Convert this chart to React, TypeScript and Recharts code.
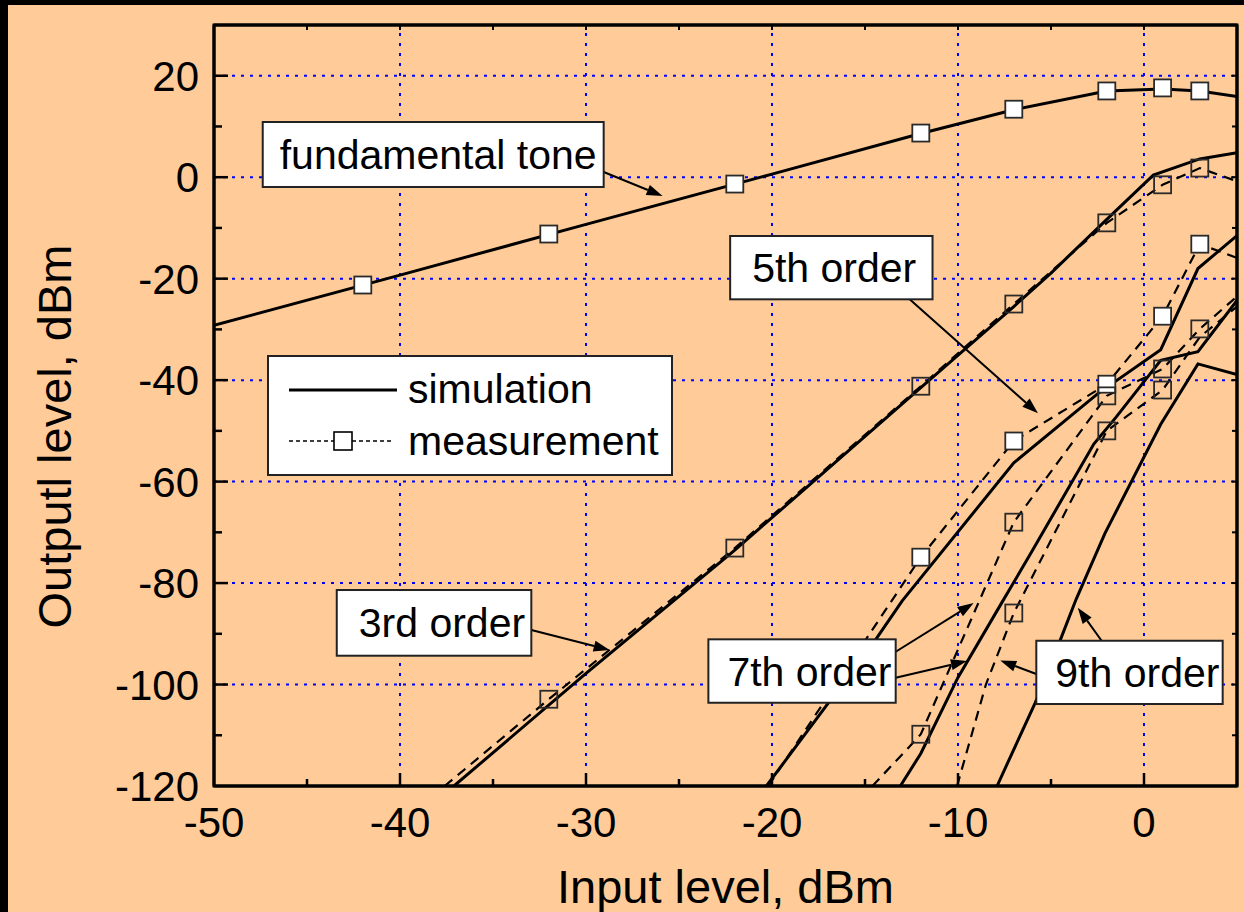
import React from 'react';
import {
  LineChart,
  Line,
  XAxis,
  YAxis,
  ReferenceArea,
  ReferenceLine,
  Legend,
} from 'recharts';

const FONT = '"Liberation Sans", Arial, Helvetica, sans-serif';
const PEACH = '#FFCC99';

// ---- axes ----
const xTicks = [-50, -45, -40, -35, -30, -25, -20, -15, -10, -5, 0, 5];
const xLabels = [-50, -40, -30, -20, -10, 0];
const yTicks = [-120, -110, -100, -90, -80, -70, -60, -50, -40, -30, -20, -10, 0, 10, 20, 30];
const yLabels = [-120, -100, -80, -60, -40, -20, 0, 20];
const gridX = [-40, -30, -20, -10, 0];
const gridY = [-100, -80, -60, -40, -20, 0, 20];

// ---- measured input levels (markers) ----
const measX = [-42, -32, -22, -12, -7, -2, 1, 3];

// fundamental tone
const fundSimX = [-50, -40, -30, -20, -12, -7, -2, 1, 3, 5];
const fundSimY = [-29.2, -19.3, -9.3, 0.6, 8.6, 13.3, 17.0, 17.4, 17.0, 15.9];
const fundMeasY = [-21.25, -11.2, -1.35, 8.7, 13.4, 17.0, 17.6, 17.0];

// 3rd order
const thirdSimX = [-37.1, -30, -22, -12, -7, -5, -2, 0.5, 3, 5];
const thirdSimY = [-120, -97.8, -73.5, -41.5, -25.5, -18.9, -8.3, 0.4, 3.6, 4.8];
const thirdMeasX = [-37.6, -32, -22, -12, -7, -2, 1, 3, 5];
const thirdMeasY = [-120, -102.9, -73.1, -41.2, -25.0, -9.0, -1.5, 1.8, -0.8];
const thirdMarks = [-32, -22, -12, -7, -2, 1, 3];

// 5th order
const fifthSimX = [-20.3, -14.4, -13, -7, -2.5, 0.9, 2.9, 5];
const fifthSimY = [-120, -91, -83.5, -56.3, -42.7, -34, -18, -11.5];
const fifthMeasX = [-20.2, -18.3, -12, -7, -2, 1, 3, 5];
const fifthMeasY = [-120, -109.5, -74.9, -52.0, -40.8, -27.4, -13.2, -15.9];
const fifthMarks = [-12, -7, -2, 1, 3];

// 7th order
const seventhSimX = [-13.1, -12, -10, -7.7, -6, -2.7, -1.5, 0.9, 2.9, 5];
const seventhSimY = [-120, -113.6, -98.6, -84.2, -73.6, -52.6, -47.3, -36.1, -34.4, -24.3];
const seventhMeasX = [-14.6, -12.7, -12, -7, -2, 1, 3, 5];
const seventhMeasY = [-120, -112.6, -109.8, -68.0, -43.1, -37.8, -29.9, -23.5];
const seventhMarks = [-12, -7, -2, 1, 3];

// 9th order
const ninthSimX = [-7.9, -5.85, -4.56, -3.65, -2.1, 0.9, 2.9, 5];
const ninthSimY = [-120, -103.6, -91.8, -83.2, -70.2, -48.7, -36.8, -38.9];
const ninthMeasX = [-10.05, -8.5, -7, -2, 1, 3, 5];
const ninthMeasY = [-120, -100, -85.9, -50.0, -41.95, -31.5, -25.5];
const ninthMarks = [-7, -2, 1];

// ---- annotations ----
const annotations = [
  { text: 'fundamental tone', x1: -47.38, x2: -29.05, y1: 10.88, y2: -1.93, dx: 17 },
  { text: '5th order', x1: -22.25, x2: -11.37, y1: -11.59, y2: -24.07, dx: 22 },
  { text: '3rd order', x1: -43.4, x2: -32.94, y1: -81.37, y2: -94.32, dx: 22 },
  { text: '7th order', x1: -23.42, x2: -13.35, y1: -91.09, y2: -103.59, dx: 19 },
  { text: '9th order', x1: -5.79, x2: 4.23, y1: -91.37, y2: -103.84, dx: 19 },
];
const arrows = [
  { fx: -29.05, fy: 1.02, tx: -25.88, ty: -3.71 },
  { fx: -12.6, fy: -24.07, tx: -5.7, ty: -46.54 },
  { fx: -32.94, fy: -89.26, tx: -28.73, ty: -93.2 },
  { fx: -13.35, fy: -93.54, tx: -9.16, ty: -83.95 },
  { fx: -13.35, fy: -98.66, tx: -9.52, ty: -95.37 },
  { fx: -5.79, fy: -97.93, tx: -7.73, ty: -95.24 },
  { fx: -2.28, fy: -91.37, tx: -3.56, ty: -84.86 },
];

type Pt = { x: number; y: number; mark: boolean };
const curve = (xs: number[], ys: number[], marks: number[] = []): Pt[] =>
  xs.map((x, i) => ({ x, y: ys[i], mark: marks.includes(x) }));

const fundSim = curve(fundSimX, fundSimY);
const fundMeas = curve(measX, fundMeasY, measX);
const thirdSim = curve(thirdSimX, thirdSimY);
const thirdMeas = curve(thirdMeasX, thirdMeasY, thirdMarks);
const fifthSim = curve(fifthSimX, fifthSimY);
const fifthMeas = curve(fifthMeasX, fifthMeasY, fifthMarks);
const seventhSim = curve(seventhSimX, seventhSimY);
const seventhMeas = curve(seventhMeasX, seventhMeasY, seventhMarks);
const ninthSim = curve(ninthSimX, ninthSimY);
const ninthMeas = curve(ninthMeasX, ninthMeasY, ninthMarks);

const sims = [fundSim, thirdSim, fifthSim, seventhSim, ninthSim];
const meas = [
  { data: fundMeas, fill: '#FFFFFF', stroke: 'none' },
  { data: thirdMeas, fill: 'none', stroke: '#000' },
  { data: fifthMeas, fill: '#FFFFFF', stroke: '#000' },
  { data: seventhMeas, fill: 'none', stroke: '#000' },
  { data: ninthMeas, fill: 'none', stroke: '#000' },
];

const squareDot = (fill: string) => (props: any) => {
  const { cx, cy, payload, index } = props;
  if (!payload || !payload.mark || cx == null || cy == null) return <g key={`n${index}`} />;
  return (
    <rect
      key={`s${index}`}
      x={cx - 8.5}
      y={cy - 8.5}
      width={17}
      height={17}
      fill={fill}
      stroke="#2a2a2a"
      strokeWidth={1.8}
      strokeDasharray="none"
    />
  );
};

const BottomTick = (p: any) => {
  const { x, y, payload } = p;
  const v = payload.value;
  const major = v % 10 === 0;
  return (
    <g>
      {v > -50 && v < 5 && (
        <line x1={x} x2={x} y1={y} y2={y - (major ? 13 : 7)} stroke="#000" strokeWidth={2.5} />
      )}
      {xLabels.includes(v) && (
        <text x={x} y={y + 51} textAnchor="middle" fontSize={42} fill="#000" fontFamily={FONT}>
          {String(v)}
        </text>
      )}
    </g>
  );
};

const TopTick = (p: any) => {
  const { x, y, payload } = p;
  const v = payload.value;
  if (v <= -50 || v >= 5) return <g />;
  return <line x1={x} x2={x} y1={y} y2={y + 5} stroke="#000" strokeWidth={2} />;
};

const LeftTick = (p: any) => {
  const { x, y, payload } = p;
  const v = payload.value;
  const major = v % 20 === 0;
  return (
    <g>
      {v > -120 && v < 30 && (
        <line x1={x} x2={x + (major ? 14 : 8)} y1={y} y2={y} stroke="#000" strokeWidth={2.5} />
      )}
      {yLabels.includes(v) && (
        <text x={x - 15} y={y + 15} textAnchor="end" fontSize={42} fill="#000" fontFamily={FONT}>
          {String(v)}
        </text>
      )}
    </g>
  );
};

const RightTick = (p: any) => {
  const { x, y, payload } = p;
  const v = payload.value;
  if (v <= -120 || v >= 30) return <g />;
  return <line x1={x} x2={x - 5} y1={y} y2={y} stroke="#000" strokeWidth={2} />;
};

const YTitle = (props: any) => {
  const vb = props.viewBox || {};
  const cy = (vb.y || 0) + (vb.height || 0) / 2 + 31;
  const cx = 71;
  return (
    <text
      x={cx}
      y={cy}
      transform={`rotate(-90, ${cx}, ${cy})`}
      textAnchor="middle"
      fontSize={47}
      fill="#000"
      fontFamily={FONT}
    >
      Outputl level, dBm
    </text>
  );
};

const makeBox = (text: string, dx: number) => (p: any) => {
  const { x, y, width, height } = p;
  return (
    <g>
      <rect x={x} y={y} width={width} height={height} fill="#FFFFFF" stroke="#222" strokeWidth={2} />
      <text x={x + dx} y={y + height / 2 + 14.5} fontSize={41} fill="#000" fontFamily={FONT}>
        {text}
      </text>
    </g>
  );
};

const FrameShape = (p: any) => {
  const { x, y, width, height } = p;
  return <rect x={x} y={y} width={width} height={height} fill="none" stroke="#000" strokeWidth={3} />;
};

const ArrowShape = (p: any) => {
  const { x1, y1, x2, y2 } = p;
  if ([x1, y1, x2, y2].some((v) => v == null || isNaN(v))) return <g />;
  const ang = Math.atan2(y2 - y1, x2 - x1);
  const L = 16;
  const W = 5.5;
  const bx = x2 - L * Math.cos(ang);
  const by = y2 - L * Math.sin(ang);
  const px = -Math.sin(ang) * W;
  const py = Math.cos(ang) * W;
  return (
    <g>
      <line x1={x1} y1={y1} x2={bx} y2={by} stroke="#000" strokeWidth={2} />
      <polygon points={`${x2},${y2} ${bx + px},${by + py} ${bx - px},${by - py}`} fill="#000" />
    </g>
  );
};

const LegendBox = () => (
  <svg width={406} height={121} style={{ display: 'block' }}>
    <rect x={1} y={1} width={404} height={119} fill="#FFFFFF" stroke="#222" strokeWidth={2} />
    <line x1={22} x2={130} y1={35} y2={35} stroke="#000" strokeWidth={3} />
    <text x={141} y={48} fontSize={41} fill="#000" fontFamily={FONT}>
      simulation
    </text>
    <line x1={22} x2={125} y1={86} y2={86} stroke="#000" strokeWidth={1.5} strokeDasharray="4 3" />
    <rect x={67} y={77} width={18} height={18} fill="#FFFFFF" stroke="#000" strokeWidth={1.6} />
    <text x={141} y={100} fontSize={41} fill="#000" fontFamily={FONT}>
      measurement
    </text>
  </svg>
);

export default function App() {
  return (
    <div
      style={{
        position: 'fixed',
        left: 0,
        top: 0,
        width: 1244,
        height: 912,
        background: '#000',
        overflow: 'hidden',
        fontFamily: FONT,
      }}
    >
      <div style={{ position: 'absolute', left: 8, top: 5, width: 1236, height: 907, background: PEACH }} />
      <div style={{ position: 'absolute', left: 0, top: 0 }}>
        <LineChart
          width={1244}
          height={912}
          margin={{ top: 24, right: 6, bottom: 0, left: 0 }}
          style={{ fontFamily: FONT }}
        >
          <XAxis
            xAxisId={0}
            dataKey="x"
            type="number"
            domain={[-50, 5]}
            ticks={xTicks}
            interval={0}
            allowDataOverflow
            height={126}
            axisLine={{ stroke: '#000', strokeWidth: 3 }}
            tickLine={false}
            tickSize={0}
            tickMargin={0}
            tick={BottomTick}
            label={{
              value: 'Input level, dBm',
              position: 'insideBottom',
              offset: 9,
              style: { fontSize: 47, fill: '#000', fontFamily: FONT },
            }}
          />
          <XAxis
            xAxisId="top"
            orientation="top"
            dataKey="x"
            type="number"
            domain={[-50, 5]}
            ticks={xTicks}
            interval={0}
            allowDataOverflow
            height={1}
            axisLine={{ stroke: '#000', strokeWidth: 3 }}
            tickLine={false}
            tickSize={0}
            tickMargin={0}
            tick={TopTick}
          />
          <YAxis
            yAxisId={0}
            type="number"
            domain={[-120, 30]}
            ticks={yTicks}
            interval={0}
            allowDataOverflow
            width={214}
            axisLine={{ stroke: '#000', strokeWidth: 3 }}
            tickLine={false}
            tickSize={0}
            tickMargin={0}
            tick={LeftTick}
            label={{ content: YTitle }}
          />
          <YAxis
            yAxisId="right"
            orientation="right"
            type="number"
            domain={[-120, 30]}
            ticks={yTicks}
            interval={0}
            allowDataOverflow
            width={1}
            axisLine={{ stroke: '#000', strokeWidth: 3 }}
            tickLine={false}
            tickSize={0}
            tickMargin={0}
            tick={RightTick}
          />
          {gridX.map((v) => (
            <ReferenceLine
              key={`gx${v}`}
              x={v}
              stroke="#0000FF"
              strokeWidth={2}
              strokeDasharray="3 7"
              {...({ zIndex: -10 } as any)}
            />
          ))}
          {gridY.map((v) => (
            <ReferenceLine
              key={`gy${v}`}
              y={v}
              stroke="#0000FF"
              strokeWidth={2}
              strokeDasharray="3 6"
              {...({ zIndex: -10 } as any)}
            />
          ))}
          {sims.map((d, i) => (
            <Line
              key={`sim${i}`}
              data={d}
              dataKey="y"
              type="linear"
              stroke="#000"
              strokeWidth={3}
              dot={false}
              activeDot={false}
              isAnimationActive={false}
            />
          ))}
          {meas.map((m, i) => (
            <Line
              key={`meas${i}`}
              data={m.data}
              dataKey="y"
              type="linear"
              stroke={m.stroke}
              strokeWidth={2.2}
              strokeDasharray="10 7"
              dot={squareDot(m.fill)}
              activeDot={false}
              isAnimationActive={false}
            />
          ))}
          {arrows.map((a, i) => (
            <ReferenceLine
              key={`arr${i}`}
              segment={[
                { x: a.fx, y: a.fy },
                { x: a.tx, y: a.ty },
              ]}
              ifOverflow="visible"
              shape={ArrowShape}
              {...({ zIndex: 2500 } as any)}
            />
          ))}
          {annotations.map((a, i) => (
            <ReferenceArea
              key={`ann${i}`}
              x1={a.x1}
              x2={a.x2}
              y1={a.y1}
              y2={a.y2}
              ifOverflow="visible"
              shape={makeBox(a.text, a.dx)}
              {...({ zIndex: 2600 } as any)}
            />
          ))}
          <ReferenceArea
            x1={-50}
            x2={5}
            y1={-120}
            y2={30}
            ifOverflow="visible"
            shape={FrameShape}
            {...({ zIndex: 2700 } as any)}
          />
          <Legend
            layout="horizontal"
            verticalAlign="middle"
            align="center"
            wrapperStyle={{ left: 267, top: 355, width: 406, height: 121 }}
            content={LegendBox}
          />
        </LineChart>
      </div>
    </div>
  );
}
